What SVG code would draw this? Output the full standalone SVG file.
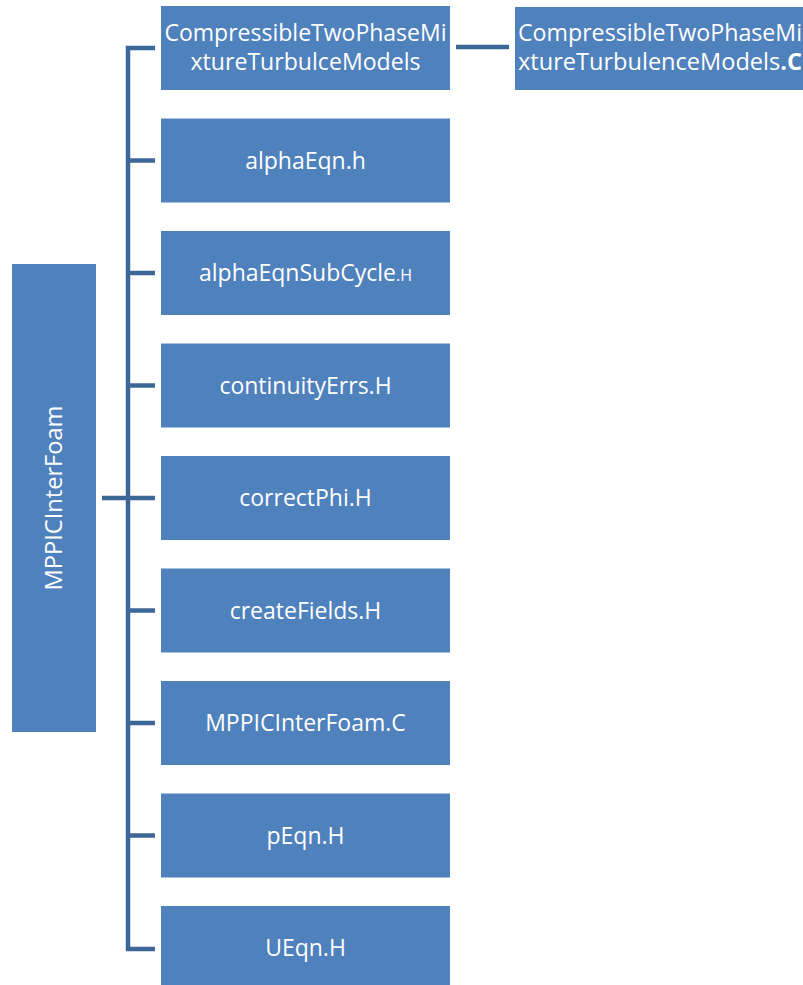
<svg xmlns="http://www.w3.org/2000/svg" width="803" height="985" viewBox="0 0 803 985">
  <style>
    .box { fill: #4F81BD; }
    .lbl { fill: #FFFFFF; font-family: "Open Sans", "Liberation Sans", sans-serif; font-size: 23px; text-anchor: middle; }
    .small { font-size: 16px; }
    .bold { font-weight: bold; }
    .wire { stroke: #3D6797; stroke-width: 4.5; fill: none; }
  </style>
  <rect width="803" height="985" fill="#FFFFFF"/>

  <!-- connectors -->
  <g id="connectors">
    <path class="wire" d="M155,48 H128 V949 H155"/>
    <path class="wire" d="M128,160.5 H155 M128,273 H155 M128,385.5 H155 M128,498 H155 M128,610.5 H155 M128,723 H155 M128,835.5 H155"/>
    <path class="wire" d="M102,498 H128"/>
    <path class="wire" d="M456,47 H509"/>
  </g>

  <!-- root -->
  <g id="root">
    <rect class="box" x="12" y="264" width="84" height="468"/>
    <text class="lbl" transform="translate(62,498) rotate(-90)" textLength="185" lengthAdjust="spacingAndGlyphs">MPPICInterFoam</text>
  </g>

  <g id="n-turb">
    <rect class="box" x="161" y="6" width="289" height="84"/>
    <text class="lbl" x="305.5" y="41" textLength="282" lengthAdjust="spacingAndGlyphs">CompressibleTwoPhaseMi</text>
    <text class="lbl" x="305.5" y="70" textLength="230" lengthAdjust="spacingAndGlyphs">xtureTurbulceModels</text>
  </g>

  <g id="n-turb-c">
    <rect class="box" x="515" y="7" width="300" height="83"/>
    <text class="lbl" x="518" y="41" style="text-anchor:start" textLength="284" lengthAdjust="spacingAndGlyphs">CompressibleTwoPhaseMi</text>
    <text class="lbl" x="518" y="70" style="text-anchor:start" textLength="284" lengthAdjust="spacingAndGlyphs">xtureTurbulenceModels<tspan class="bold">.C</tspan></text>
  </g>

  <g id="n-alphaEqn">
    <rect class="box" x="161" y="118.5" width="289" height="84"/>
    <text class="lbl" x="305.5" y="168.5">alphaEqn.h</text>
  </g>

  <g id="n-alphaEqnSubCycle">
    <rect class="box" x="161" y="231" width="289" height="84"/>
    <text class="lbl" x="305.5" y="281">alphaEqnSubCycle<tspan class="small">.H</tspan></text>
  </g>

  <g id="n-continuityErrs">
    <rect class="box" x="161" y="343.5" width="289" height="84"/>
    <text class="lbl" x="305.5" y="393.5">continuityErrs.H</text>
  </g>

  <g id="n-correctPhi">
    <rect class="box" x="161" y="456" width="289" height="84"/>
    <text class="lbl" x="305.5" y="506">correctPhi.H</text>
  </g>

  <g id="n-createFields">
    <rect class="box" x="161" y="568.5" width="289" height="84"/>
    <text class="lbl" x="305.5" y="618.5">createFields.H</text>
  </g>

  <g id="n-main">
    <rect class="box" x="161" y="681" width="289" height="84"/>
    <text class="lbl" x="305.5" y="731">MPPICInterFoam.C</text>
  </g>

  <g id="n-pEqn">
    <rect class="box" x="161" y="793.5" width="289" height="84"/>
    <text class="lbl" x="305.5" y="843.5">pEqn.H</text>
  </g>

  <g id="n-UEqn">
    <rect class="box" x="161" y="906" width="289" height="84"/>
    <text class="lbl" x="305.5" y="956">UEqn.H</text>
  </g>
</svg>
